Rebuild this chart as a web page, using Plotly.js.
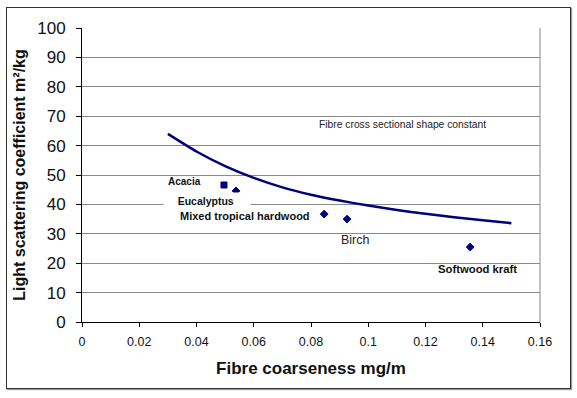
<!DOCTYPE html>
<html>
<head>
<meta charset="utf-8">
<script src="https://cdn.plot.ly/plotly-3.0.1.min.js"></script>
<style>
html,body{margin:0;padding:0;background:#fff;}
#frame{position:absolute;left:6px;top:7px;width:563px;height:380px;border:1.5px solid #333;box-shadow:1px 1px 1px #999;}
#chart{position:absolute;left:0;top:0;width:577px;height:398px;}
</style>
</head>
<body>
<div id="frame"></div>
<div id="chart"></div>
<script>
// Model curve: fibre cross sectional shape constant
const curveX = [0.03, 0.04, 0.05, 0.06, 0.07, 0.08, 0.09, 0.10, 0.11, 0.12, 0.13, 0.14, 0.15];
const curveY = [64.0, 58.0, 53.0, 49.0, 45.8, 43.3, 41.3, 39.6, 38.1, 36.8, 35.6, 34.6, 33.6];

// Measured pulps
const pulpNames = ["Acacia", "Eucalyptus", "Mixed tropical hardwood", "Birch", "Softwood kraft"];
const pulpX = [0.0496, 0.0538, 0.0846, 0.0926, 0.1356];
const pulpY = [46.6, 44.6, 36.7, 35.0, 25.5];
const pulpSymbols = ["square", "diamond", "diamond", "diamond", "diamond"];

const xTicks = [0, 0.02, 0.04, 0.06, 0.08, 0.1, 0.12, 0.14, 0.16];
const xTickText = ["0", "0.02", "0.04", "0.06", "0.08", "0.1", "0.12", "0.14", "0.16"];
const yTicks = [0, 10, 20, 30, 40, 50, 60, 70, 80, 90, 100];

const navy = "#00007f";
const FAM = "Liberation Sans, Arial, sans-serif";

const traces = [
  {x: curveX, y: curveY, type: "scatter", mode: "lines", line: {color: navy, width: 2.5, shape: "spline", smoothing: 0.6}, hoverinfo: "skip"},
  {x: pulpX, y: pulpY, type: "scatter", mode: "markers",
   marker: {color: navy, size: 6, symbol: pulpSymbols, line: {color: navy, width: 1}}, text: pulpNames}
];

// label offsets from each point (in pixels)
const labelAx = [-39, -29, -79, 8, 7];
const labelAy = [-4, 10, 2, 21, 22];
const labelSize = [10, 10.5, 11, 12.5, 11.3];
const annotations = pulpNames.map((n, i) => ({
  x: pulpX[i], y: pulpY[i], xref: "x", yref: "y",
  text: n === "Birch" ? n : "<b>" + n + "</b>",
  showarrow: true, arrowcolor: "rgba(0,0,0,0)", ax: labelAx[i], ay: labelAy[i],
  font: {family: FAM, size: labelSize[i], color: n === "Birch" ? "#222" : "#111"},
  bgcolor: n === "Eucalyptus" ? "#fff" : "rgba(0,0,0,0)", borderpad: n === "Eucalyptus" ? 2 : 0
}));
annotations[1].text = "&nbsp;&nbsp;&nbsp;&nbsp;<b>Eucalyptus</b>&nbsp;&nbsp;&nbsp;&nbsp;&nbsp;";
annotations.push({
  x: 0.112, y: 67.1, xref: "x", yref: "y", text: "Fibre cross sectional shape constant",
  showarrow: false, font: {family: FAM, size: 10.3, color: "#222"}
});

const layout = {
  width: 577, height: 398,
  margin: {l: 82, r: 37, t: 28, b: 76},
  paper_bgcolor: "rgba(0,0,0,0)", plot_bgcolor: "#fff",
  showlegend: false,
  xaxis: {
    range: [0, 0.16], tickvals: xTicks, ticktext: xTickText, showgrid: false, zeroline: false,
    showline: true, linecolor: "#000", linewidth: 1, ticks: "outside", ticklen: 4, tickcolor: "#000",
    ticklabelstandoff: 4,
    tickfont: {family: FAM, size: 12.5, color: "#111"},
    title: {text: "<b>Fibre coarseness mg/m</b>", font: {family: FAM, size: 17, color: "#111"}, standoff: 14}
  },
  yaxis: {
    range: [0, 100], tickvals: yTicks, showgrid: true, gridcolor: "#8a8a8a", gridwidth: 1, zeroline: false,
    showline: true, linecolor: "#000", linewidth: 1, ticks: "outside", ticklen: 5, tickcolor: "#000",
    ticklabelstandoff: 7,
    tickfont: {family: FAM, size: 17, color: "#111"},
    title: {text: "<b>Light scattering coefficient m²/kg</b>", font: {family: FAM, size: 16, color: "#111"}, standoff: 7}
  },
  shapes: [
    {type: "line", xref: "paper", yref: "paper", x0: 1, x1: 1, y0: 0, y1: 1, line: {color: "#8a8a8a", width: 1}}
  ],
  annotations: annotations
};

Plotly.newPlot("chart", traces, layout, {displayModeBar: false, staticPlot: true});
</script>
</body>
</html>
